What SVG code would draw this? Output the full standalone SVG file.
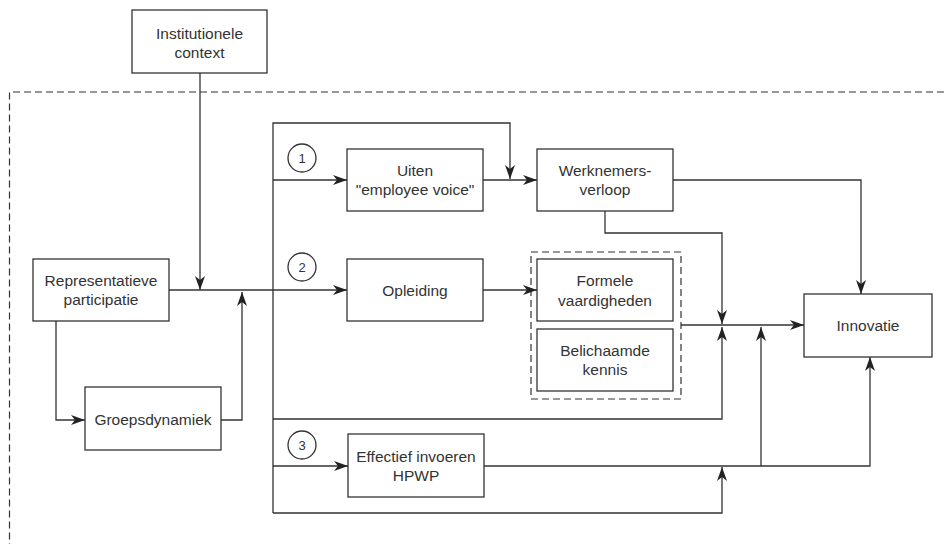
<svg xmlns="http://www.w3.org/2000/svg" width="944" height="544" viewBox="0 0 944 544">
<defs>
<marker id="arr" viewBox="0 0 14 10" markerWidth="14" markerHeight="10" refX="14" refY="5" orient="auto" markerUnits="userSpaceOnUse">
<path d="M0,0 L14,5 L0,10 L4,5 z" fill="#222"/>
</marker>
<style>
.box{fill:#fff;stroke:#333;stroke-width:1.3}
.t{font-family:"Liberation Sans",Arial,sans-serif;font-size:15.5px;fill:#333;text-anchor:middle}
.n{font-family:"Liberation Sans",Arial,sans-serif;font-size:13px;fill:#333;text-anchor:middle}
.c{fill:none;stroke:#333;stroke-width:1.3}
.a{fill:none;stroke:#333;stroke-width:1.3;marker-end:url(#arr)}
.d{fill:none;stroke:#333;stroke-width:1.2;stroke-dasharray:7,4}
</style>
</defs>
<rect width="944" height="544" fill="#fff"/>
<path class="d" d="M944,92 H9.5 V544"/>
<rect class="d" x="531" y="252" width="150" height="147"/>
<g id="connectors">
<path class="a" d="M200,73 V290"/>
<path class="a" d="M169,290 H347"/>
<path class="a" d="M56,321 V420 H85"/>
<path class="a" d="M221,420 H242 V292"/>
<path class="a" d="M273,513 V123 H510 V179"/>
<path class="a" d="M273,180 H347"/>
<path class="a" d="M273,419 H722 V327"/>
<path class="a" d="M273,466 H348"/>
<path class="a" d="M273,513 H722 V467"/>
<path class="a" d="M483,180 H537"/>
<path class="a" d="M673,180 H861 V294"/>
<path class="a" d="M605,211 V233 H722 V324"/>
<path class="a" d="M483,290 H537"/>
<path class="a" d="M681,325 H804"/>
<path class="a" d="M484,466 H870 V357"/>
<path class="a" d="M761,466 V327"/>
</g>
<g id="inst"><rect class="box" x="132" y="10" width="135" height="63"/><text class="t" x="199.5" y="39">Institutionele</text><text class="t" x="199.5" y="58">context</text></g>
<g id="repr"><rect class="box" x="33" y="259" width="136" height="62"/><text class="t" x="101" y="286">Representatieve</text><text class="t" x="101" y="305">participatie</text></g>
<g id="groep"><rect class="box" x="85" y="387" width="136" height="63"/><text class="t" x="153" y="425">Groepsdynamiek</text></g>
<g id="c1"><circle class="c" cx="302" cy="158" r="14"/><text class="n" x="302" y="163">1</text></g>
<g id="c2"><circle class="c" cx="302" cy="267" r="14"/><text class="n" x="302" y="272">2</text></g>
<g id="c3"><circle class="c" cx="302" cy="445" r="14"/><text class="n" x="302" y="450">3</text></g>
<g id="uiten"><rect class="box" x="347" y="149" width="136" height="62"/><text class="t" x="415" y="176">Uiten</text><text class="t" x="415" y="195">"employee voice"</text></g>
<g id="werk"><rect class="box" x="537" y="149" width="136" height="62"/><text class="t" x="605" y="176">Werknemers-</text><text class="t" x="605" y="195">verloop</text></g>
<g id="opl"><rect class="box" x="347" y="259" width="136" height="62"/><text class="t" x="415" y="296">Opleiding</text></g>
<g id="form"><rect class="box" x="537" y="259" width="136" height="62"/><text class="t" x="605" y="286">Formele</text><text class="t" x="605" y="306">vaardigheden</text></g>
<g id="bel"><rect class="box" x="537" y="329" width="136" height="62"/><text class="t" x="605" y="356">Belichaamde</text><text class="t" x="605" y="375">kennis</text></g>
<g id="innov"><rect class="box" x="804" y="294" width="128" height="63"/><text class="t" x="868" y="331">Innovatie</text></g>
<g id="eff"><rect class="box" x="348" y="434" width="136" height="63"/><text class="t" x="416" y="462">Effectief invoeren</text><text class="t" x="416" y="481">HPWP</text></g>
</svg>
